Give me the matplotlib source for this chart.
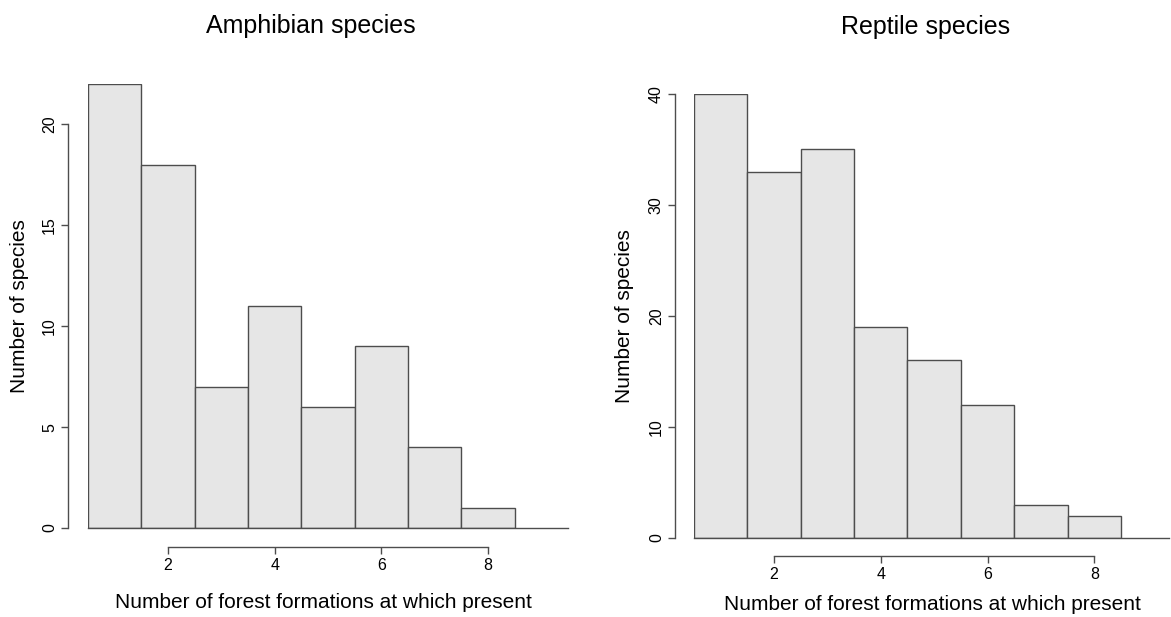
import matplotlib
matplotlib.use("Agg")
import matplotlib.pyplot as plt

plt.rcParams["font.family"] = ["Liberation Sans", "DejaVu Sans"]

# histogram data: number of forest formations (1..8) vs species count
formations = [1, 2, 3, 4, 5, 6, 7, 8]
amphibians = [22, 18, 7, 11, 6, 9, 4, 1]
reptiles = [40, 33, 35, 19, 16, 12, 3, 2]

x_ticks = [2, 4, 6, 8]
amph_yticks = [0, 5, 10, 15, 20]
rept_yticks = [0, 10, 20, 30, 40]

W, H = 1171, 617
fig = plt.figure(figsize=(W / 100, H / 100), dpi=100)

fill = "#e6e6e6"
edge = "#4d4d4d"
xlab = "Number of forest formations at which present"
PT = 0.72  # points per pixel at 100 dpi


def px_axes(left, right, bottom, top):
    return fig.add_axes([left / W, 1 - bottom / H, (right - left) / W, (bottom - top) / H])


def ftext(x, y, s, **kw):
    fig.text(x / W, 1 - y / H, s, ha="center", va="center", **kw)


def draw(ax, counts, yticks, ymax, xmax, xout, yout):
    ax.bar(formations, counts, width=1.0, color=fill, edgecolor=edge, linewidth=1.0, zorder=2)
    ax.plot([0.5, xmax], [0, 0], color=edge, linewidth=1.0, clip_on=False, zorder=3)
    ax.set_xlim(0.5, xmax)
    ax.set_ylim(0, ymax)
    for s in ["top", "right"]:
        ax.spines[s].set_visible(False)
    ax.spines["left"].set_position(("outward", yout * PT))
    ax.spines["bottom"].set_position(("outward", xout * PT))
    ax.spines["left"].set_bounds(yticks[0], yticks[-1])
    ax.spines["bottom"].set_bounds(x_ticks[0], x_ticks[-1])
    for s in ["left", "bottom"]:
        ax.spines[s].set_color(edge)
        ax.spines[s].set_linewidth(1.0)
    ax.set_xticks(x_ticks)
    ax.set_yticks(yticks)
    ax.set_yticklabels([str(v) for v in yticks], rotation=90, va="center")
    ax.tick_params(length=5, width=1.0, color=edge, labelsize=11.5, pad=3)
    ax.patch.set_visible(False)


ax1 = px_axes(88, 568, 528, 84)
draw(ax1, amphibians, amph_yticks, 22, 9.5, 19, 20)
ftext(311, 26, "Amphibian species", fontsize=18)
ftext(323, 603, xlab, fontsize=15)
ftext(20, 306, "Number of species", fontsize=15, rotation=90)

ax2 = px_axes(694, 1169, 538, 94)
draw(ax2, reptiles, rept_yticks, 40, 9.4, 18, 19)
ftext(926, 27, "Reptile species", fontsize=18)
ftext(932, 605, xlab, fontsize=15)
ftext(624, 316, "Number of species", fontsize=15, rotation=90)

fig.savefig("out.png", dpi=100)
